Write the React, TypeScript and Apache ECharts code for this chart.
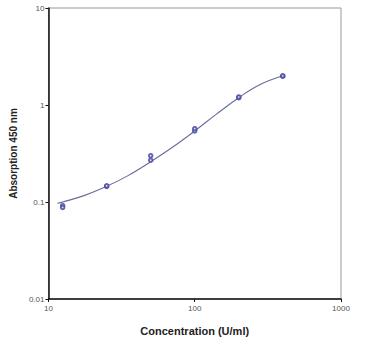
import React, { useEffect, useRef } from "react";
import * as echarts from "echarts";

const concentrations = [12.5, 25, 50, 100, 200, 400];
const replicate1 = [0.092, 0.145, 0.27, 0.54, 1.19, 1.98];
const replicate2 = [0.088, 0.147, 0.3, 0.57, 1.21, 2.0];

const curveX = [11.5, 12.5, 17.7, 25, 35, 50, 70, 100, 140, 200, 280, 400];
const curveY = [0.097, 0.1, 0.117, 0.145, 0.187, 0.26, 0.364, 0.54, 0.8, 1.19, 1.625, 2.0];

export default function App() {
  const ref = useRef<HTMLDivElement>(null);
  useEffect(() => {
    if (!ref.current) return;
    const chart = echarts.init(ref.current, null, { renderer: "svg" });
    const markerColor = "#4b4ba6";
    chart.setOption({
      animation: false,
      backgroundColor: "#ffffff",
      grid: {
        left: 40,
        right: 26,
        top: 8,
        bottom: 41,
        show: true,
        borderColor: "#999999",
        borderWidth: 1,
      },
      xAxis: {
        type: "log",
        logBase: 10,
        min: 10,
        max: 1000,
        name: "Concentration (U/ml)",
        nameLocation: "middle",
        nameGap: 26,
        nameTextStyle: { fontFamily: "Liberation Sans", fontWeight: "bold", fontSize: 11, color: "#222" },
        axisLine: { lineStyle: { color: "#111", width: 1.5 } },
        axisTick: { show: true, length: 3, lineStyle: { color: "#111" } },
        axisLabel: {
          fontFamily: "Liberation Sans",
          fontSize: 8,
          color: "#555",
          margin: 5,
          formatter: (v: number) => String(Math.round(v)),
        },
        splitLine: { show: false },
        minorTick: { show: false },
      },
      yAxis: {
        type: "log",
        logBase: 10,
        min: 0.01,
        max: 10,
        name: "Absorption 450 nm",
        nameLocation: "middle",
        nameGap: 24,
        nameRotate: 90,
        nameTextStyle: { fontFamily: "Liberation Sans", fontWeight: "bold", fontSize: 10, color: "#222" },
        axisLine: { lineStyle: { color: "#111", width: 1.5 } },
        axisTick: { show: true, length: 3, lineStyle: { color: "#111" } },
        axisLabel: {
          fontFamily: "Liberation Sans",
          fontSize: 8,
          color: "#555",
          margin: 4,
          formatter: (v: number) => String(+v.toPrecision(2)),
        },
        splitLine: { show: false },
      },
      series: [
        {
          type: "line",
          smooth: 0.4,
          showSymbol: false,
          data: curveX.map((x, i) => [x, curveY[i]]),
          lineStyle: { color: "#6a6a9c", width: 1.1 },
          z: 2,
        },
        {
          type: "scatter",
          symbol: "emptyCircle",
          symbolSize: 3.5,
          data: concentrations.map((x, i) => [x, replicate1[i]]),
          itemStyle: { color: markerColor, borderColor: markerColor, borderWidth: 0.8, opacity: 0.85 },
          z: 3,
        },
        {
          type: "scatter",
          symbol: "emptyCircle",
          symbolSize: 3.5,
          data: concentrations.map((x, i) => [x, replicate2[i]]),
          itemStyle: { color: markerColor, borderColor: markerColor, borderWidth: 0.8, opacity: 0.85 },
          z: 3,
        },
      ],
    });
    return () => chart.dispose();
  }, []);
  return <div ref={ref} style={{ width: 367, height: 341, position: "absolute", left: 0, top: 0 }} />;
}
